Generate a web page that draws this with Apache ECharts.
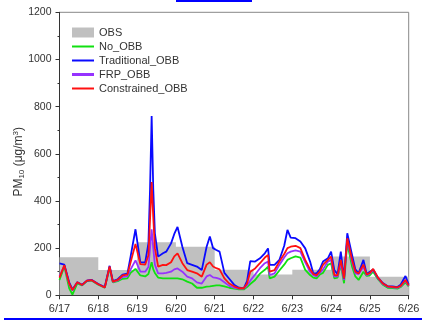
<!DOCTYPE html>
<html>
<head>
<meta charset="utf-8">
<script src="https://cdn.jsdelivr.net/npm/echarts@6/dist/echarts.min.js"></script>
<style>
html,body{margin:0;padding:0;background:#fff;}
#chart{width:422px;height:320px;}
</style>
</head>
<body>
<div id="chart"></div>
<script>
// sample times, hours since 6/17 00:00
var hours = [0,3,6,8,11,14,17,20,24,28,
	31,33,36,39,42,44,47,50,53,55,
	56,57,58,59,61,64,66,69,71,73,
	76,79,82,85,88,91,93,95,97,99,
	102,105,108,111,114,116,118,121,124,127,
	129,130,133,136,139,141,143,146,149,152,
	155,157,159,161,163,166,168,170,172,174,
	176,178,181,183,185,188,190,192,194,197,
	200,203,206,209,211,214,216];

var dayLabels = ['6/17','6/18','6/19','6/20','6/21','6/22','6/23','6/24','6/25','6/26'];
var dayStarts = [0,24,48,72,96,120,144,168,192,216];
// daily observed PM10 (last value repeats to close the step)
var obsDaily = [161,107,225,206,108,88,108,164,79,79];

var traditionalObb = [135,130,55,25,55,45,62,65,48,35,
	125,60,68,88,92,165,280,140,140,220,
	450,760,450,263,164,178,185,220,260,290,
	206,136,129,122,107,206,249,200,192,185,
	95,70,45,32,30,60,145,143,157,178,
	199,129,129,150,210,277,245,242,228,199,
	143,93,93,110,143,157,185,107,90,185,
	72,263,170,110,93,150,90,100,110,75,
	52,38,38,35,45,82,45];

var constrainedObb = [75,128,50,22,55,44,62,64,47,33,
	122,58,65,84,88,140,218,132,130,170,
	320,480,330,200,122,129,128,140,165,178,
	136,107,100,93,79,130,140,122,115,110,
	72,50,38,30,30,50,100,114,136,160,
	171,100,107,143,175,200,206,210,200,150,
	110,90,86,100,129,150,164,86,85,150,
	72,242,150,100,93,130,88,95,112,75,
	50,38,36,34,40,65,42];

var frpObb = [80,126,48,20,55,44,62,64,47,33,
	120,57,63,78,80,110,148,100,100,120,
	200,280,200,130,93,93,95,100,110,114,
	100,79,72,55,50,80,86,76,74,70,
	55,40,32,28,28,42,62,88,115,136,
	143,86,93,129,160,178,185,190,185,140,
	100,85,80,95,110,143,150,79,80,136,
	65,235,140,93,90,120,85,92,108,72,
	48,36,34,32,38,62,40];

var noObb = [65,122,30,3,50,42,60,62,45,32,
	115,55,60,70,72,95,112,84,80,90,
	115,140,110,95,75,72,72,72,72,72,
	68,58,50,32,32,37,38,40,42,42,
	38,32,28,25,25,35,48,65,92,108,
	121,72,79,105,130,150,157,165,160,108,
	86,75,72,88,95,129,136,72,75,129,
	51,220,121,80,65,100,82,85,100,68,
	45,32,30,28,35,55,38];

function toPairs(xs, vals){
	var out = [];
	for(var i = 0; i < xs.length; i++){
		out.push([xs[i], vals[i]]);
	}
	return out;
}

function lineSeries(name, vals, color){
	return {
		name: name,
		type: 'line',
		data: toPairs(hours, vals),
		symbol: 'none',
		lineStyle: { color: color, width: 1.8 },
		itemStyle: { color: color },
		animation: false
	};
}

var font = "'Liberation Sans', Arial, sans-serif";
var thinBar = 'path://M0 0H22V2H0Z';
var thickBar = 'path://M0 0H22V3H0Z';

var option = {
	backgroundColor: '#fff',
	grid: {
		left: 59.5, right: 13.3, top: 12.3, bottom: 24.7,
		outerBoundsMode: 'none',
		show: true, borderColor: '#888', borderWidth: 1
	},
	legend: {
		orient: 'vertical',
		left: 72, top: 27, padding: 0,
		itemWidth: 22, itemHeight: 10, itemGap: 3,
		symbolKeepAspect: true,
		textStyle: { fontSize: 11, color: '#333', fontFamily: font },
		data: [
			{ name: 'OBS', icon: 'rect', itemStyle: { color: '#c0c0c0' } },
			{ name: 'No_OBB', icon: thinBar },
			{ name: 'Traditional_OBB', icon: thinBar },
			{ name: 'FRP_OBB', icon: thickBar },
			{ name: 'Constrained_OBB', icon: thinBar }
		]
	},
	xAxis: {
		type: 'value', min: 0, max: 216, interval: 24,
		axisLine: { lineStyle: { color: '#333', width: 1 } },
		axisTick: { length: 4, lineStyle: { color: '#333' } },
		axisLabel: {
			margin: 8, fontSize: 11, color: '#333', fontFamily: font,
			formatter: function(v){ return dayLabels[dayStarts.indexOf(v)]; }
		},
		splitLine: { show: false }
	},
	yAxis: {
		type: 'value', min: 0, max: 1200, interval: 200,
		name: 'PM{sub|10} (μg/m{sup|3})',
		nameLocation: 'middle', nameGap: 34,
		nameMoveOverlap: false,
		nameTextStyle: {
			fontSize: 12, color: '#333', fontFamily: font,
			padding: [0, 16, 0, 0],
			rich: {
				sub: { fontSize: 8, color: '#333', fontFamily: font, verticalAlign: 'bottom', padding: [6, 0, 0, 0] },
				sup: { fontSize: 8, color: '#333', fontFamily: font, verticalAlign: 'top', padding: [0, 0, 6, 0] }
			}
		},
		axisLine: { show: true, lineStyle: { color: '#333', width: 1 } },
		axisTick: { show: true, length: 4, lineStyle: { color: '#333' } },
		minorTick: { show: true, splitNumber: 2, length: 2, lineStyle: { color: '#333' } },
		axisLabel: {
			margin: 8, fontSize: 10.5, color: '#333', fontFamily: font,
			formatter: function(v){ return String(v); }
		},
		splitLine: { show: false }
	},
	graphic: [
		{ type: 'rect', shape: { x: 176, y: 0, width: 76, height: 2 }, style: { fill: '#0000ff' } },
		{ type: 'rect', shape: { x: 4, y: 318, width: 418, height: 2 }, style: { fill: '#0000ff' } }
	],
	series: [
		{
			name: 'OBS',
			type: 'line',
			step: 'end',
			data: toPairs(dayStarts, obsDaily),
			symbol: 'none',
			lineStyle: { width: 0, color: '#c0c0c0' },
			itemStyle: { color: '#c0c0c0' },
			areaStyle: { color: '#c0c0c0', opacity: 1 },
			animation: false
		},
		lineSeries('No_OBB', noObb, '#11e011'),
		lineSeries('FRP_OBB', frpObb, '#9632ff'),
		lineSeries('Traditional_OBB', traditionalObb, '#0a0aff'),
		lineSeries('Constrained_OBB', constrainedObb, '#ff1010')
	]
};

var myChart = echarts.init(document.getElementById('chart'));
myChart.setOption(option);
</script>
</body>
</html>
